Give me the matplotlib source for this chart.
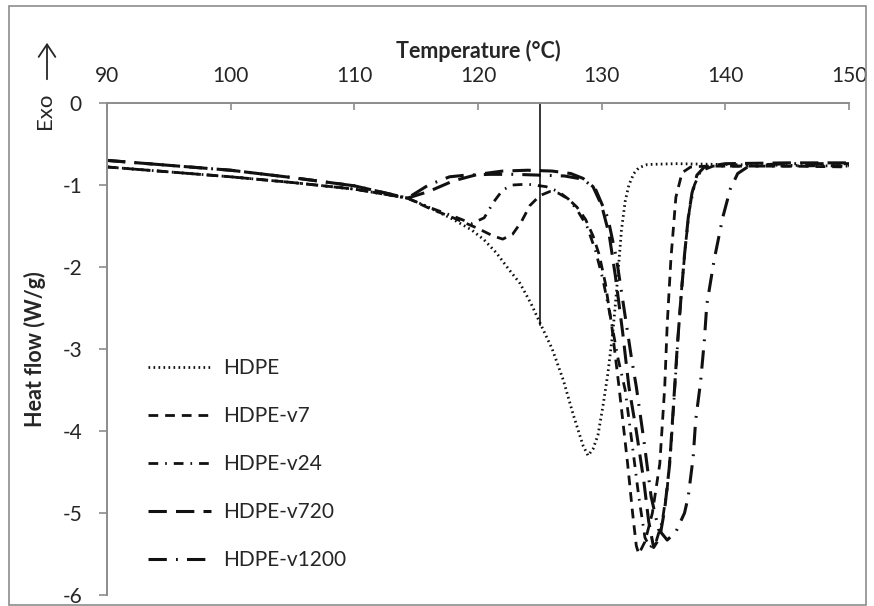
import matplotlib
matplotlib.use("Agg")
import matplotlib.pyplot as plt
from matplotlib.patches import Rectangle, FancyArrowPatch

# DSC curves (temperature in degC, heat flow in W/g)
temp_hdpe = [90, 95, 100, 105, 110, 114.3, 116, 118, 119.5, 120.5, 121.5, 122.5, 123.4, 124.3, 125.1,
             126, 126.9, 127.7, 128.5, 128.9, 129.3, 129.7, 130.1, 130.5, 130.9, 131.2, 131.6, 131.9,
             132.2, 132.6, 133.0, 133.7, 136, 140, 145, 150]
flow_hdpe = [-0.78, -0.84, -0.90, -0.97, -1.05, -1.16, -1.27, -1.42, -1.55, -1.67, -1.83, -2.03, -2.2,
             -2.45, -2.71, -3.0, -3.38, -3.8, -4.18, -4.3, -4.22, -4.05, -3.7, -3.3, -2.8, -2.3, -1.55,
             -1.2, -1.0, -0.86, -0.79, -0.75, -0.74, -0.75, -0.76, -0.77]

temp_v7 = [90, 95, 100, 105, 110, 114.3, 116, 118, 120, 121.2, 122.0, 122.8, 123.5, 124.2, 125.0, 125.8,
           126.5, 127.3, 128.0, 128.7, 129.3, 129.8, 130.3, 130.8, 131.4, 132.1, 132.5, 132.8, 133.0,
           133.5, 134.1, 134.7, 135.1, 135.3, 135.6, 136.0, 136.5, 137.2, 138.5, 140, 145, 150]
flow_v7 = [-0.78, -0.84, -0.90, -0.97, -1.05, -1.16, -1.28, -1.40, -1.53, -1.62, -1.66, -1.6, -1.45,
           -1.25, -1.13, -1.08, -1.1, -1.17, -1.27, -1.42, -1.62, -1.85, -2.2, -2.7, -3.46, -4.4, -5.0,
           -5.4, -5.5, -5.35, -5.0, -4.4, -3.46, -2.7, -1.9, -1.15, -0.85, -0.78, -0.77, -0.77, -0.77, -0.78]

temp_v24 = [90, 95, 100, 105, 110, 114.3, 116, 118, 119.5, 120.5, 121.3, 122, 122.8, 124, 125.5, 126.5,
            127.3, 128, 128.8, 129.5, 130.1, 130.7, 131.3, 131.9, 132.5, 133.0, 133.5, 133.9, 134.4,
            134.9, 135.3, 135.6, 135.9, 136.2, 136.5, 136.8, 137.1, 137.5, 138.0, 139, 145, 150]
flow_v24 = [-0.78, -0.84, -0.90, -0.97, -1.05, -1.16, -1.27, -1.38, -1.47, -1.4, -1.2, -1.06, -1.0,
            -0.99, -1.02, -1.08, -1.17, -1.3, -1.5, -1.8, -2.15, -2.6, -3.1, -3.5, -4.2, -4.8, -5.3,
            -5.42, -5.35, -5.1, -4.7, -4.2, -3.5, -2.8, -2.2, -1.7, -1.3, -1.0, -0.83, -0.77, -0.77, -0.76]

temp_v720 = [90, 95, 100, 105, 110, 114.3, 116, 118, 120, 122, 124, 126, 127.5, 128.5, 129.3, 130,
             130.6, 131.1, 131.7, 132.2, 132.8, 133.4, 133.8, 134.2, 134.7, 135.1, 135.5, 135.8, 136.1,
             136.4, 136.7, 137.0, 137.3, 137.7, 138.3, 140, 145, 150]
flow_v720 = [-0.70, -0.76, -0.82, -0.91, -1.01, -1.16, -1.08, -0.95, -0.87, -0.83, -0.82, -0.83, -0.86,
             -0.92, -1.02, -1.25, -1.6, -2.1, -2.8, -3.46, -4.0, -4.6, -5.1, -5.42, -5.3, -4.95, -4.4,
             -3.7, -3.0, -2.4, -1.85, -1.4, -1.1, -0.88, -0.78, -0.74, -0.73, -0.73]

temp_v1200 = [90, 95, 100, 105, 110, 114.3, 116, 117.7, 119, 121, 123, 125, 127, 128.5, 129.5, 130.5,
              131.2, 131.8, 132.4, 132.8, 133.4, 134.0, 134.6, 135.3, 136.0, 136.7, 137.0, 137.4, 137.6,
              138.0, 138.3, 138.5, 139.1, 139.8, 140.4, 141.0, 142, 145, 150]
flow_v1200 = [-0.70, -0.76, -0.82, -0.91, -1.01, -1.16, -1.0, -0.90, -0.88, -0.87, -0.87, -0.88, -0.89,
              -0.93, -1.05, -1.4, -1.9, -2.5, -3.1, -3.46, -4.1, -4.8, -5.2, -5.33, -5.23, -5.0, -4.8,
              -4.32, -3.87, -3.4, -2.9, -2.46, -1.91, -1.39, -1.05, -0.86, -0.76, -0.74, -0.74]

labels = ["HDPE", "HDPE-v7", "HDPE-v24", "HDPE-v720", "HDPE-v1200"]

# marker line at 125 degC
marker_temp = 125
marker_flow = [0, -2.71]

x_ticks = [90, 100, 110, 120, 130, 140, 150]
y_ticks = [0, -1, -2, -3, -4, -5, -6]

plt.rcParams["font.family"] = ["Lato", "DejaVu Sans"]
plt.rcParams["axes.unicode_minus"] = False
text_color = "#262626"
spine_color = "#8c8c8c"

W, H = 874, 606
fig = plt.figure(figsize=(W / 100, H / 100), dpi=100)
ax = fig.add_axes([107 / W, 1 - 595 / H, (849 - 107) / W, (595 - 103) / H])

styles = [
    dict(linestyle=(0, (0.6, 1.2)), linewidth=2.0),
    dict(linestyle=(0, (3.5, 2.5)), linewidth=2.0),
    dict(linestyle=(0, (3.5, 2.5, 0.6, 2.5)), linewidth=2.0),
    dict(linestyle=(0, (6, 3)), linewidth=2.2),
    dict(linestyle=(0, (6, 3, 0.6, 3)), linewidth=2.2),
]
series = [(temp_hdpe, flow_hdpe), (temp_v7, flow_v7), (temp_v24, flow_v24),
          (temp_v720, flow_v720), (temp_v1200, flow_v1200)]
for (t, f), lab, st in zip(series, labels, styles):
    ax.plot(t, f, color="#111111", label=lab, dash_capstyle="butt", **st)

ax.plot([marker_temp, marker_temp], marker_flow, color="black", linewidth=1.1)

ax.set_xlim(90, 150)
ax.set_ylim(-6, 0)
ax.set_xticks(x_ticks)
ax.set_yticks(y_ticks)
ax.xaxis.tick_top()
ax.xaxis.set_label_position("top")
ax.tick_params(axis="x", direction="in", length=5, width=1.2, color=spine_color,
               labelsize=15, labelcolor=text_color, pad=12)
ax.tick_params(axis="y", direction="out", length=6, width=1.2, color=spine_color,
               labelsize=15, labelcolor=text_color, pad=12)
for side in ["right", "bottom"]:
    ax.spines[side].set_visible(False)
for side in ["left", "top"]:
    ax.spines[side].set_color(spine_color)
    ax.spines[side].set_linewidth(1.4)

ax.set_xlabel("Temperature (°C)", fontsize=15.5, fontweight="bold", color=text_color, labelpad=6)
ax.set_ylabel("Heat flow (W/g)", fontsize=15.5, fontweight="bold", color=text_color, labelpad=12)

# Exo arrow
fig.text(45 / W, 1 - 111 / H, "Exo", rotation=90, ha="center", va="center", fontsize=16, color=text_color)
fig.add_artist(FancyArrowPatch((47 / W, 1 - 82 / H), (47 / W, 1 - 40 / H),
                               transform=fig.transFigure, arrowstyle="->,head_length=6,head_width=4",
                               color=text_color, linewidth=1.3, mutation_scale=1.5))

leg = ax.legend(loc="upper left", bbox_to_anchor=(148 / W, 1 - 358 / H), bbox_transform=fig.transFigure,
                frameon=False, fontsize=15, handlelength=3.0, handletextpad=0.6, labelspacing=1.35,
                borderpad=0, borderaxespad=0)
for txt in leg.get_texts():
    txt.set_color(text_color)

# outer chart border
fig.add_artist(Rectangle((8.5 / W, 1 - 605 / H), (866 - 8.5) / W, (605 - 6) / H, transform=fig.transFigure,
                         fill=False, edgecolor=spine_color, linewidth=1.2))

fig.savefig("out.png", dpi=100)
